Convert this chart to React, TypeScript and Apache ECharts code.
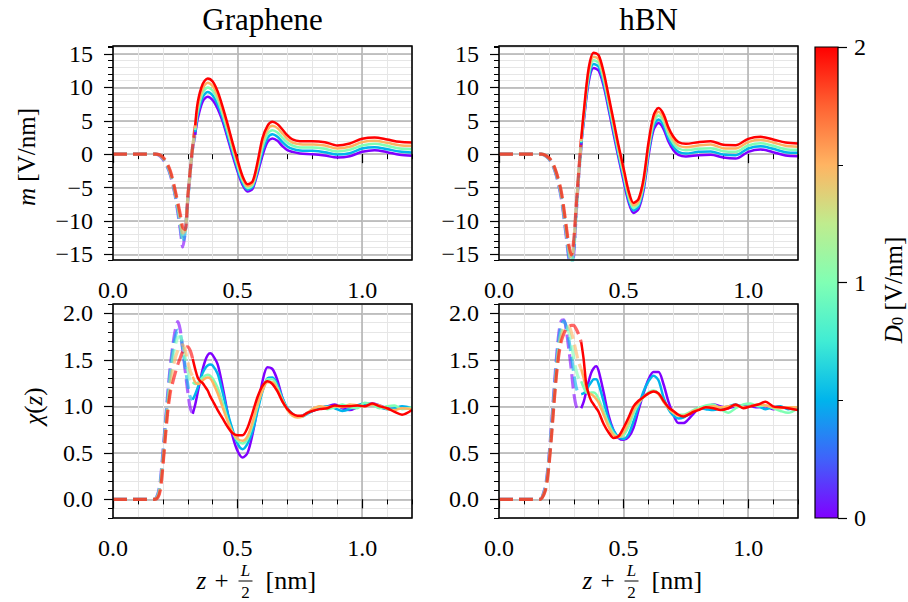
import React, { useEffect, useRef } from 'react';
import * as echarts from 'echarts';

// ---------------- data ----------------
const D0_VALUES = [0, 0.5, 1, 1.5, 2];
const LINE_COLORS = ['#8000ff', '#00b4ec', '#80ffb4', '#ffb462', '#ff0000'];
const COLORBAR_STOPS = ['#8000ff', '#4062fa', '#00b4ec', '#40ecd4', '#80ffb4', '#bfec8e', '#ffb462', '#ff6232', '#ff0000'];
const COLORBAR_MAX = 2;

const TITLES = ['Graphene', 'hBN'];

// top row: m [V/nm]
const M_DASH_Z = [0, 0.12, 0.17, 0.19, 0.21, 0.23, 0.25, 0.27, 0.28, 0.29, 0.3, 0.31, 0.32, 0.33];
const M_SOLID_Z = [0.33, 0.34, 0.36, 0.38, 0.4, 0.42, 0.44, 0.46, 0.48, 0.5, 0.52, 0.54, 0.56, 0.58, 0.6, 0.62, 0.64, 0.66, 0.68, 0.7, 0.72, 0.75, 0.8, 0.85, 0.9, 0.95, 1.0, 1.05, 1.1, 1.15, 1.2];

const GRAPHENE_M_DASH = [
  [0, 0, 0, -0.3, -1.3, -3.1, -6.3, -11.3, -13.9, -11.6, -7.0, -2.6, 1.0, 2.9],
  [0, 0, 0, -0.25, -1.2, -2.95, -6.1, -10.7, -13.2, -11.6, -6.9, -2.6, 1.1, 3.3],
  [0, 0, 0, -0.2, -1.1, -2.8, -5.9, -10.2, -12.5, -11.5, -6.8, -2.5, 1.2, 3.6],
  [0, 0, 0, -0.2, -1.0, -2.65, -5.7, -9.6, -11.8, -11.4, -6.6, -2.5, 1.25, 3.9],
  [0, 0, 0, -0.15, -0.9, -2.5, -5.5, -9.0, -11.0, -11.3, -6.4, -2.4, 1.3, 4.3],
];
const GRAPHENE_M_SOLID = [
  [2.9, 5.3, 7.9, 8.6, 8.1, 6.8, 4.9, 2.4, -0.2, -2.6, -4.6, -5.6, -5.2, -2.9, -0.2, 1.8, 2.35, 2.0, 1.2, 0.6, 0.35, 0.1, 0.0, -0.2, -0.5, -0.3, 0.35, 0.6, 0.3, -0.1, -0.25],
  [3.3, 5.9, 8.55, 9.3, 8.8, 7.45, 5.45, 2.9, 0.3, -2.2, -4.3, -5.3, -4.9, -2.5, 0.45, 2.4, 3.0, 2.6, 1.8, 1.15, 0.8, 0.55, 0.5, 0.3, -0.05, 0.15, 0.85, 1.05, 0.75, 0.4, 0.25],
  [3.6, 6.5, 9.2, 10.0, 9.5, 8.1, 6.0, 3.45, 0.75, -1.75, -3.95, -5.05, -4.65, -2.1, 1.1, 3.0, 3.6, 3.25, 2.45, 1.7, 1.3, 1.0, 1.0, 0.8, 0.4, 0.65, 1.3, 1.55, 1.25, 0.85, 0.75],
  [3.9, 7.1, 9.85, 10.7, 10.2, 8.75, 6.55, 4.0, 1.2, -1.3, -3.6, -4.8, -4.4, -1.7, 1.75, 3.65, 4.25, 3.9, 3.1, 2.25, 1.75, 1.5, 1.45, 1.3, 0.85, 1.1, 1.8, 2.0, 1.7, 1.35, 1.25],
  [4.3, 7.75, 10.5, 11.35, 10.9, 9.4, 7.1, 4.5, 1.7, -0.9, -3.3, -4.5, -4.1, -1.2, 2.4, 4.25, 4.85, 4.5, 3.7, 2.8, 2.2, 1.95, 1.95, 1.8, 1.3, 1.6, 2.3, 2.5, 2.2, 1.85, 1.75],
];

const HBN_M_DASH = [
  [0, 0, 0, -0.35, -1.2, -3.2, -6.6, -12.4, -15.6, -17.5, -15.0, -8.8, -3.2, 1.4],
  [0, 0, 0, -0.3, -1.15, -3.05, -6.35, -11.9, -15.1, -16.9, -14.5, -8.5, -3.05, 1.6],
  [0, 0, 0, -0.3, -1.1, -2.95, -6.1, -11.6, -14.5, -16.3, -13.9, -8.2, -2.9, 1.8],
  [0, 0, 0, -0.25, -1.0, -2.8, -5.85, -11.2, -14.0, -15.7, -13.4, -7.9, -2.75, 2.0],
  [0, 0, 0, -0.25, -0.95, -2.7, -5.6, -10.8, -13.5, -15.1, -12.8, -7.6, -2.6, 2.3],
];
const HBN_M_SOLID = [
  [1.4, 4.8, 10.8, 12.9, 12.5, 10.2, 6.7, 3.0, -0.6, -4.0, -7.2, -8.8, -8.2, -5.5, -0.3, 3.6, 4.65, 3.8, 1.9, 0.6, -0.1, -0.35, -0.15, -0.1, -0.5, -0.65, 0.35, 0.7, 0.3, -0.2, -0.3],
  [1.6, 5.2, 11.3, 13.5, 13.1, 10.7, 7.2, 3.5, -0.15, -3.5, -6.8, -8.45, -7.8, -5.05, 0.2, 4.15, 5.2, 4.35, 2.4, 1.1, 0.35, 0.1, 0.35, 0.4, -0.05, -0.15, 0.85, 1.2, 0.8, 0.3, 0.2],
  [1.8, 5.5, 11.85, 14.05, 13.65, 11.25, 7.7, 4.0, 0.3, -3.05, -6.35, -8.05, -7.45, -4.6, 0.7, 4.7, 5.8, 4.9, 2.95, 1.6, 0.85, 0.6, 0.8, 0.9, 0.45, 0.35, 1.3, 1.65, 1.25, 0.75, 0.65],
  [2.0, 5.9, 12.4, 14.6, 14.2, 11.8, 8.2, 4.5, 0.8, -2.6, -5.9, -7.7, -7.1, -4.2, 1.2, 5.2, 6.35, 5.45, 3.5, 2.1, 1.3, 1.05, 1.3, 1.45, 0.9, 0.85, 1.8, 2.15, 1.75, 1.25, 1.1],
  [2.3, 6.25, 12.9, 15.2, 14.8, 12.3, 8.7, 5.0, 1.25, -2.1, -5.5, -7.3, -6.7, -3.75, 1.75, 5.75, 6.9, 6.0, 4.0, 2.6, 1.8, 1.55, 1.8, 1.95, 1.4, 1.35, 2.3, 2.6, 2.2, 1.75, 1.6],
];

// bottom row: chi(z)
const GRAPHENE_CHI_DASH_Z = [0, 0.12, 0.165, 0.18, 0.19, 0.2, 0.21, 0.22, 0.23, 0.24, 0.25, 0.26, 0.27, 0.28, 0.29, 0.3, 0.31, 0.32];
const GRAPHENE_CHI_DASH = [
  [0, 0, 0, 0.06, 0.2, 0.5, 0.82, 1.15, 1.43, 1.65, 1.82, 1.91, 1.82, 1.6, 1.38, 1.16, 0.98, 0.92],
  [0, 0, 0, 0.05, 0.18, 0.46, 0.78, 1.1, 1.38, 1.6, 1.75, 1.82, 1.78, 1.62, 1.42, 1.24, 1.1, 1.07],
  [0, 0, 0, 0.04, 0.16, 0.42, 0.74, 1.05, 1.32, 1.52, 1.66, 1.74, 1.75, 1.66, 1.52, 1.38, 1.28, 1.26],
  [0, 0, 0, 0.03, 0.13, 0.38, 0.7, 0.98, 1.22, 1.4, 1.52, 1.6, 1.65, 1.66, 1.6, 1.48, 1.38, 1.32],
  [0, 0, 0, 0.02, 0.1, 0.35, 0.66, 0.95, 1.15, 1.26, 1.36, 1.45, 1.52, 1.59, 1.63, 1.64, 1.6, 1.51],
];
const GRAPHENE_CHI_SOLID_Z = [0.32, 0.33, 0.34, 0.35, 0.36, 0.37, 0.38, 0.39, 0.4, 0.42, 0.44, 0.46, 0.48, 0.5, 0.52, 0.54, 0.56, 0.58, 0.6, 0.62, 0.64, 0.66, 0.68, 0.7, 0.72, 0.74, 0.76, 0.78, 0.8, 0.83, 0.86, 0.89, 0.92, 0.95, 0.98, 1.01, 1.04, 1.07, 1.1, 1.13, 1.16, 1.2];
const GRAPHENE_CHI_SOLID = [
  [0.92, 1.02, 1.15, 1.28, 1.4, 1.49, 1.55, 1.57, 1.55, 1.45, 1.21, 0.93, 0.68, 0.52, 0.45, 0.5, 0.7, 0.98, 1.27, 1.42, 1.4, 1.28, 1.09, 0.97, 0.91, 0.89, 0.9, 0.93, 0.95, 0.98, 1.0, 1.02, 0.98, 0.96, 0.99, 1.02, 1.03, 1.01, 0.98, 0.97, 0.99, 0.97],
  [1.07, 1.13, 1.2, 1.28, 1.36, 1.41, 1.44, 1.45, 1.44, 1.35, 1.15, 0.93, 0.75, 0.6, 0.54, 0.6, 0.73, 0.95, 1.16, 1.3, 1.31, 1.23, 1.09, 0.98, 0.92, 0.89, 0.89, 0.92, 0.95, 0.98, 1.0, 0.98, 0.95, 0.97, 1.01, 1.03, 1.02, 0.99, 0.97, 0.98, 1.0, 0.98],
  [1.26, 1.24, 1.25, 1.28, 1.31, 1.33, 1.34, 1.33, 1.3, 1.2, 1.04, 0.86, 0.72, 0.63, 0.6, 0.65, 0.8, 1.0, 1.18, 1.29, 1.29, 1.2, 1.07, 0.97, 0.91, 0.89, 0.9, 0.93, 0.96, 1.0, 0.97, 0.99, 1.02, 0.99, 0.98, 1.04, 1.02, 0.98, 1.0, 1.01, 0.97, 0.99],
  [1.32, 1.26, 1.24, 1.25, 1.28, 1.3, 1.31, 1.3, 1.26, 1.14, 0.99, 0.84, 0.72, 0.65, 0.63, 0.68, 0.83, 1.02, 1.17, 1.26, 1.26, 1.18, 1.06, 0.96, 0.9, 0.88, 0.89, 0.93, 0.97, 1.0, 0.99, 1.0, 0.99, 1.02, 1.01, 1.0, 1.02, 1.01, 0.97, 0.96, 0.98, 0.97],
  [1.51, 1.4, 1.31, 1.27, 1.25, 1.21, 1.17, 1.11, 1.06, 0.96, 0.87, 0.78, 0.71, 0.69, 0.69, 0.77, 0.93, 1.1, 1.22, 1.27, 1.24, 1.16, 1.05, 0.97, 0.92, 0.9, 0.9, 0.93, 0.95, 0.97, 0.98, 1.01, 1.0, 1.0, 1.01, 1.0, 1.03, 1.0, 0.98, 0.94, 0.91, 0.96],
];

const HBN_CHI_DASH_Z = [0, 0.12, 0.165, 0.18, 0.19, 0.2, 0.21, 0.22, 0.23, 0.24, 0.25, 0.26, 0.27, 0.28, 0.29, 0.3, 0.31, 0.32, 0.33];
const HBN_CHI_DASH = [
  [0, 0, 0, 0.08, 0.2, 0.44, 0.78, 1.15, 1.5, 1.78, 1.92, 1.93, 1.82, 1.62, 1.4, 1.15, 1.0, 0.96, 0.98],
  [0, 0, 0, 0.07, 0.18, 0.41, 0.74, 1.1, 1.44, 1.72, 1.88, 1.92, 1.86, 1.72, 1.55, 1.36, 1.2, 1.14, 1.13],
  [0, 0, 0, 0.06, 0.16, 0.38, 0.7, 1.05, 1.38, 1.65, 1.8, 1.86, 1.86, 1.8, 1.68, 1.52, 1.38, 1.3, 1.27],
  [0, 0, 0, 0.06, 0.15, 0.37, 0.68, 1.02, 1.34, 1.6, 1.75, 1.83, 1.86, 1.86, 1.8, 1.7, 1.58, 1.47, 1.4],
  [0, 0, 0, 0.05, 0.14, 0.35, 0.65, 1.0, 1.32, 1.55, 1.7, 1.78, 1.83, 1.86, 1.87, 1.87, 1.83, 1.77, 1.69],
];
const HBN_CHI_SOLID_Z = [0.33, 0.34, 0.35, 0.36, 0.37, 0.38, 0.39, 0.4, 0.42, 0.44, 0.46, 0.48, 0.5, 0.52, 0.54, 0.56, 0.58, 0.6, 0.62, 0.64, 0.66, 0.68, 0.7, 0.72, 0.74, 0.76, 0.78, 0.8, 0.83, 0.86, 0.89, 0.92, 0.95, 0.98, 1.01, 1.04, 1.07, 1.1, 1.13, 1.16, 1.2];
const HBN_CHI_SOLID = [
  [0.98, 1.05, 1.16, 1.27, 1.36, 1.41, 1.43, 1.38, 1.15, 0.9, 0.74, 0.66, 0.64, 0.67, 0.77, 0.96, 1.14, 1.29, 1.37, 1.37, 1.24, 1.05, 0.91, 0.82, 0.82, 0.86, 0.92, 0.97, 0.99, 1.02, 1.0, 0.98, 1.0, 1.01, 1.0, 0.99, 1.0, 0.97, 0.99, 0.98, 0.98],
  [1.13, 1.14, 1.17, 1.22, 1.26, 1.29, 1.29, 1.24, 1.05, 0.86, 0.74, 0.67, 0.65, 0.7, 0.84, 1.0, 1.16, 1.27, 1.33, 1.28, 1.1, 0.97, 0.9, 0.87, 0.88, 0.91, 0.95, 0.98, 0.97, 0.96, 0.98, 1.0, 1.02, 0.99, 1.01, 1.0, 0.97, 0.99, 1.0, 0.97, 0.99],
  [1.27, 1.2, 1.15, 1.14, 1.15, 1.15, 1.13, 1.08, 0.95, 0.81, 0.71, 0.67, 0.69, 0.78, 0.92, 1.03, 1.1, 1.15, 1.17, 1.14, 1.06, 0.98, 0.93, 0.91, 0.91, 0.93, 0.96, 0.98, 1.01, 1.02, 0.97, 0.93, 0.98, 1.02, 1.03, 1.0, 1.01, 0.98, 0.95, 0.93, 0.98],
  [1.4, 1.3, 1.2, 1.15, 1.13, 1.11, 1.08, 1.04, 0.91, 0.78, 0.69, 0.67, 0.72, 0.83, 0.96, 1.04, 1.1, 1.14, 1.16, 1.13, 1.05, 0.98, 0.93, 0.9, 0.9, 0.92, 0.95, 0.97, 0.99, 1.0, 0.99, 1.0, 1.01, 0.99, 1.0, 1.02, 1.01, 0.99, 0.98, 0.99, 0.99],
  [1.69, 1.5, 1.24, 1.13, 1.06, 1.02, 0.98, 0.94, 0.81, 0.72, 0.66, 0.68, 0.77, 0.88, 1.0, 1.06, 1.1, 1.14, 1.16, 1.14, 1.06, 0.99, 0.95, 0.91, 0.89, 0.91, 0.94, 0.96, 0.99, 0.98, 0.96, 0.98, 1.02, 0.98, 1.0, 1.02, 1.05, 1.0, 0.99, 0.98, 0.96],
];

// ---------------- layout / style ----------------
const FONT = 'Liberation Serif, DejaVu Serif, serif';
const GRIDS = [
  { left: 113, top: 46, width: 299, height: 214 },
  { left: 499, top: 46, width: 299, height: 214 },
  { left: 113, top: 304, width: 299, height: 214 },
  { left: 499, top: 304, width: 299, height: 214 },
];
const CBAR_GRID = { left: 815, top: 47, width: 23, height: 471 };

const isMult = (v: number, s: number) => Math.abs(v / s - Math.round(v / s)) < 1e-6;
const fmtSigned = (v: number) => (v < 0 ? '\u2212' + Math.abs(v) : String(v));

const PANELS = [
  { dashZ: M_DASH_Z, dash: GRAPHENE_M_DASH, solidZ: M_SOLID_Z, solid: GRAPHENE_M_SOLID, kind: 'm' },
  { dashZ: M_DASH_Z, dash: HBN_M_DASH, solidZ: M_SOLID_Z, solid: HBN_M_SOLID, kind: 'm' },
  { dashZ: GRAPHENE_CHI_DASH_Z, dash: GRAPHENE_CHI_DASH, solidZ: GRAPHENE_CHI_SOLID_Z, solid: GRAPHENE_CHI_SOLID, kind: 'chi' },
  { dashZ: HBN_CHI_DASH_Z, dash: HBN_CHI_DASH, solidZ: HBN_CHI_SOLID_Z, solid: HBN_CHI_SOLID, kind: 'chi' },
];

const MINOR_GRID = '#e6e6e6';
const MAJOR_GRID = '#b0b0b0';

function buildOption() {
  const grid: any[] = GRIDS.map((g) => ({
    ...g, show: true, z: 10, borderColor: '#000', borderWidth: 1.5,
    backgroundColor: 'transparent', containLabel: false, outerBoundsMode: 'none',
  }));
  grid.push({ ...CBAR_GRID, show: true, z: 10, borderColor: '#000', borderWidth: 1.2, backgroundColor: 'transparent', containLabel: false, outerBoundsMode: 'none' });

  const xAxis: any[] = [];
  const yAxis: any[] = [];
  const labelStyle = { color: '#000', fontFamily: FONT, fontSize: 24 };

  PANELS.forEach((p, i) => {
    xAxis.push({
      type: 'value', gridIndex: i, position: 'bottom', min: 0, max: 1.2, interval: 0.1,
      axisLine: { show: false },
      axisTick: { show: true, length: 5, lineStyle: { color: '#000', width: 1 } },
      axisLabel: { show: false },
      splitLine: { show: true, lineStyle: { color: MINOR_GRID, width: 1 } },
    });
    xAxis.push({
      type: 'value', gridIndex: i, position: 'bottom', min: 0, max: 1.2, interval: 0.5,
      axisLine: { show: false },
      axisTick: { show: true, length: 9, lineStyle: { color: '#000', width: 1.2 } },
      axisLabel: {
        ...labelStyle, margin: 18, showMaxLabel: false,
        formatter: (v: number) => (isMult(v, 0.5) ? v.toFixed(1) : ''),
      },
      splitLine: { show: true, lineStyle: { color: MAJOR_GRID, width: 1.5 } },
    });
    const isM = p.kind === 'm';
    const ymin = isM ? -15.85 : -0.2;
    const ymax = isM ? 16.2 : 2.1;
    yAxis.push({
      type: 'value', gridIndex: i, position: 'left', min: ymin, max: ymax,
      ...(isM ? { splitNumber: 30 } : { interval: 0.1 }),
      axisLine: { show: false },
      axisTick: { show: true, length: 5, lineStyle: { color: '#000', width: 1 } },
      axisLabel: { show: false },
      splitLine: { show: true, lineStyle: { color: MINOR_GRID, width: 1 } },
    });
    yAxis.push({
      type: 'value', gridIndex: i, position: 'left', min: ymin, max: ymax, splitNumber: 5,
      axisLine: { show: false },
      axisTick: { show: true, length: 9, lineStyle: { color: '#000', width: 1.2 } },
      axisLabel: {
        ...labelStyle, margin: 20, showMinLabel: false, showMaxLabel: false,
        formatter: (v: number) =>
          isM ? (isMult(v, 5) ? fmtSigned(v) : '') : (isMult(v, 0.5) ? v.toFixed(1) : ''),
      },
      splitLine: { show: true, lineStyle: { color: MAJOR_GRID, width: 1.5 } },
    });
  });

  // colorbar axes
  xAxis.push({ type: 'category', gridIndex: 4, data: [''], show: false, boundaryGap: true });
  yAxis.push({
    type: 'value', gridIndex: 4, position: 'right', min: 0, max: COLORBAR_MAX, interval: 1,
    axisLine: { show: false },
    axisTick: { show: true, length: 9, lineStyle: { color: '#000', width: 1.2 } },
    minorTick: { show: true, splitNumber: 2, length: 5, lineStyle: { color: '#000', width: 1 } },
    axisLabel: { ...labelStyle, margin: 16, formatter: (v: number) => String(v) },
    splitLine: { show: false },
  });

  const series: any[] = [];
  PANELS.forEach((p, i) => {
    p.dash.forEach((vals, k) => {
      series.push({
        type: 'line', name: `dash-${i}-${D0_VALUES[k]}`, xAxisIndex: 2 * i, yAxisIndex: 2 * i,
        data: p.dashZ.map((z, j) => [z, vals[j]]),
        symbol: 'none', smooth: 0.3, silent: true, z: 3,
        lineStyle: { color: LINE_COLORS[k], width: 3.2, type: [14, 6], opacity: 0.6, cap: 'butt' },
      });
    });
    p.solid.forEach((vals, k) => {
      series.push({
        type: 'line', name: `solid-${i}-${D0_VALUES[k]}`, xAxisIndex: 2 * i, yAxisIndex: 2 * i,
        data: p.solidZ.map((z, j) => [z, vals[j]]),
        symbol: 'none', smooth: 0.3, silent: true, z: 4,
        lineStyle: { color: LINE_COLORS[k], width: 2.5 },
      });
    });
  });

  series.push({
    type: 'bar', xAxisIndex: 8, yAxisIndex: 8, data: [COLORBAR_MAX], barWidth: '100%', silent: true,
    barCategoryGap: 0,
    itemStyle: {
      color: new echarts.graphic.LinearGradient(0, 1, 0, 0,
        COLORBAR_STOPS.map((c, j) => ({ offset: j / (COLORBAR_STOPS.length - 1), color: c }))),
    },
  });

  const txt = (extra: any) => ({ fill: '#000', font: `24px ${FONT}`, align: 'center', verticalAlign: 'middle', ...extra });
  const xLabel = (cx: number, cy: number) => ({
    type: 'group', x: cx, y: cy, silent: true,
    children: [
      { type: 'text', x: -66, y: 0, style: txt({ text: 'z', font: `italic 25px ${FONT}`, align: 'left' }) },
      { type: 'text', x: -41, y: 0, style: txt({ text: '+', font: `25px ${FONT}` }) },
      { type: 'text', x: -17, y: -10, style: txt({ text: 'L', font: `italic 17px ${FONT}` }) },
      { type: 'line', shape: { x1: -24, y1: 1, x2: -10, y2: 1 }, style: { stroke: '#000', lineWidth: 1 } },
      { type: 'text', x: -17, y: 12, style: txt({ text: '2', font: `17px ${FONT}` }) },
      { type: 'text', x: 3, y: 0, style: txt({ text: '[nm]', font: `26px ${FONT}`, align: 'left' }) },
    ],
  });

  const graphic: any[] = [
    { type: 'text', x: 262.5, y: 19, silent: true, style: txt({ text: TITLES[0], font: `31px ${FONT}` }) },
    { type: 'text', x: 648.5, y: 19, silent: true, style: txt({ text: TITLES[1], font: `31px ${FONT}` }) },
    {
      type: 'text', x: 26, y: 157, rotation: Math.PI / 2, silent: true,
      style: txt({ text: '{i|m} [V/nm]', font: `25px ${FONT}`, rich: { i: { fontStyle: 'italic', fontSize: 25, fontFamily: FONT } } }),
    },
    {
      type: 'text', x: 33, y: 406, rotation: Math.PI / 2, silent: true,
      style: txt({ text: '{i|\u03c7}({i|z})', font: `25px ${FONT}`, rich: { i: { fontStyle: 'italic', fontSize: 25, fontFamily: FONT } } }),
    },
    {
      type: 'text', x: 893, y: 290, rotation: Math.PI / 2, silent: true,
      style: txt({
        text: '{i|D}{s|0} [V/nm]',
        font: `25px ${FONT}`,
        rich: {
          i: { fontStyle: 'italic', fontSize: 25, fontFamily: FONT },
          s: { fontSize: 17, fontFamily: FONT, verticalAlign: 'bottom', padding: [8, 0, 0, 0] },
        },
      }),
    },
    xLabel(262.5, 580),
    xLabel(648.5, 580),
  ];

  return {
    animation: false,
    backgroundColor: '#fff',
    textStyle: { fontFamily: FONT },
    grid, xAxis, yAxis, series, graphic,
  };
}

export default function App() {
  const ref = useRef<HTMLDivElement>(null);
  useEffect(() => {
    if (!ref.current) return;
    const chart = echarts.init(ref.current, undefined, { renderer: 'svg' });
    chart.setOption(buildOption() as any);
    return () => chart.dispose();
  }, []);
  return <div ref={ref} style={{ position: 'fixed', left: 0, top: 0, width: 908, height: 602 }} />;
}
